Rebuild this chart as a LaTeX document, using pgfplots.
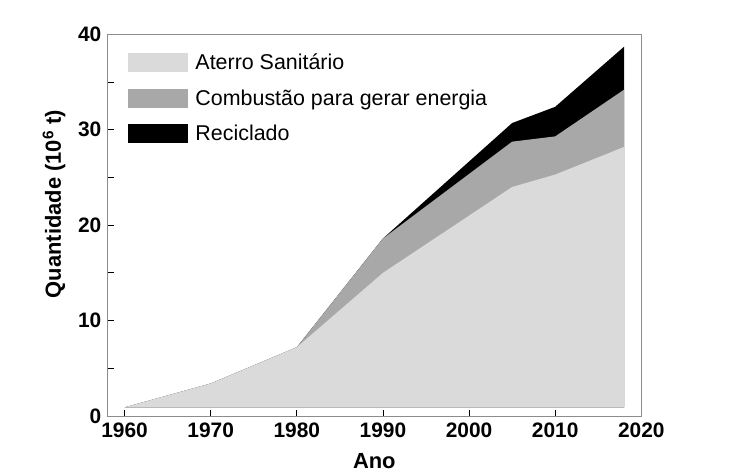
\documentclass[border=0pt]{standalone}
\usepackage{fontspec}
\setmainfont{Liberation Sans}
\usepackage{pgfplots}
\pgfplotsset{compat=1.18}
\definecolor{lf}{HTML}{DADADA}
\definecolor{cb}{HTML}{A8A8A8}
\begin{document}
\begin{tikzpicture}
\useasboundingbox (0,0) rectangle (748bp,472bp);
\begin{axis}[
  at={(107.3bp,56bp)}, anchor=south west,
  scale only axis, width=534bp, height=381.7bp,
  xmin=1958, xmax=2020, ymin=0, ymax=40,
  xtick={1960,1970,...,2020}, ytick={0,10,...,40}, minor ytick={5,15,25,35},
  xtick pos=lower, ytick pos=left, tick align=inside,
  major tick length=6.5bp, minor tick length=6.5bp,
  every tick/.style={black, line width=0.8bp},
  axis line style={draw=black!45, line width=1bp},
  /pgf/number format/assume math mode=true,
  xticklabel style={/pgf/number format/1000 sep={}, yshift=-3bp},
  yticklabel style={xshift=-2.5bp},
  ticklabel style={font=\fontsize{21}{25}\selectfont\bfseries},
  xlabel={Ano},
  ylabel={Quantidade (10\textsuperscript{6} t)},
  label style={font=\fontsize{22}{26}\selectfont\bfseries},
  xlabel style={at={(axis description cs:0.5,-0.118)}, anchor=center},
  ylabel style={at={(axis description cs:-0.0998,0.555)}, anchor=center, rotate=0},
  legend image code/.code={\fill[#1] (0bp,-9.5bp) rectangle (60bp,9.5bp);},
  legend style={draw=none, fill=none, at={(axis description cs:0.0393,0.952)}, anchor=north west,
    font=\fontsize{21.5}{25}\selectfont, row sep=16.5bp, inner sep=0bp,
    nodes={inner sep=1bp},
    /tikz/every odd column/.append style={column sep=6bp}},
  legend cell align=left,
]
\addlegendimage{fill=lf, draw=none}
\addlegendentry{Aterro Sanitário}
\addlegendimage{fill=cb, draw=none}
\addlegendentry{Combustão para gerar energia}
\addlegendimage{fill=black, draw=none}
\addlegendentry{Reciclado}
% total (top of recycled)
\addplot[fill=black, draw=none, forget plot] coordinates {
  (1960,0.9) (1970,3.4) (1980,7.2) (1990,18.6) (2005,30.7) (2010,32.4) (2018,38.7) (2018,0.9)
} -- cycle;
% landfill + combustion
\addplot[fill=cb, draw=none, forget plot] coordinates {
  (1960,0.9) (1970,3.4) (1980,7.2) (1990,18.6) (2005,28.75) (2010,29.3) (2018,34.2) (2018,0.9)
} -- cycle;
% landfill
\addplot[fill=lf, draw=none, forget plot] coordinates {
  (1960,0.9) (1970,3.4) (1980,7.2) (1990,15.0) (2005,24.0) (2010,25.3) (2018,28.2) (2018,0.9)
} -- cycle;
\end{axis}
\end{tikzpicture}
\end{document}
